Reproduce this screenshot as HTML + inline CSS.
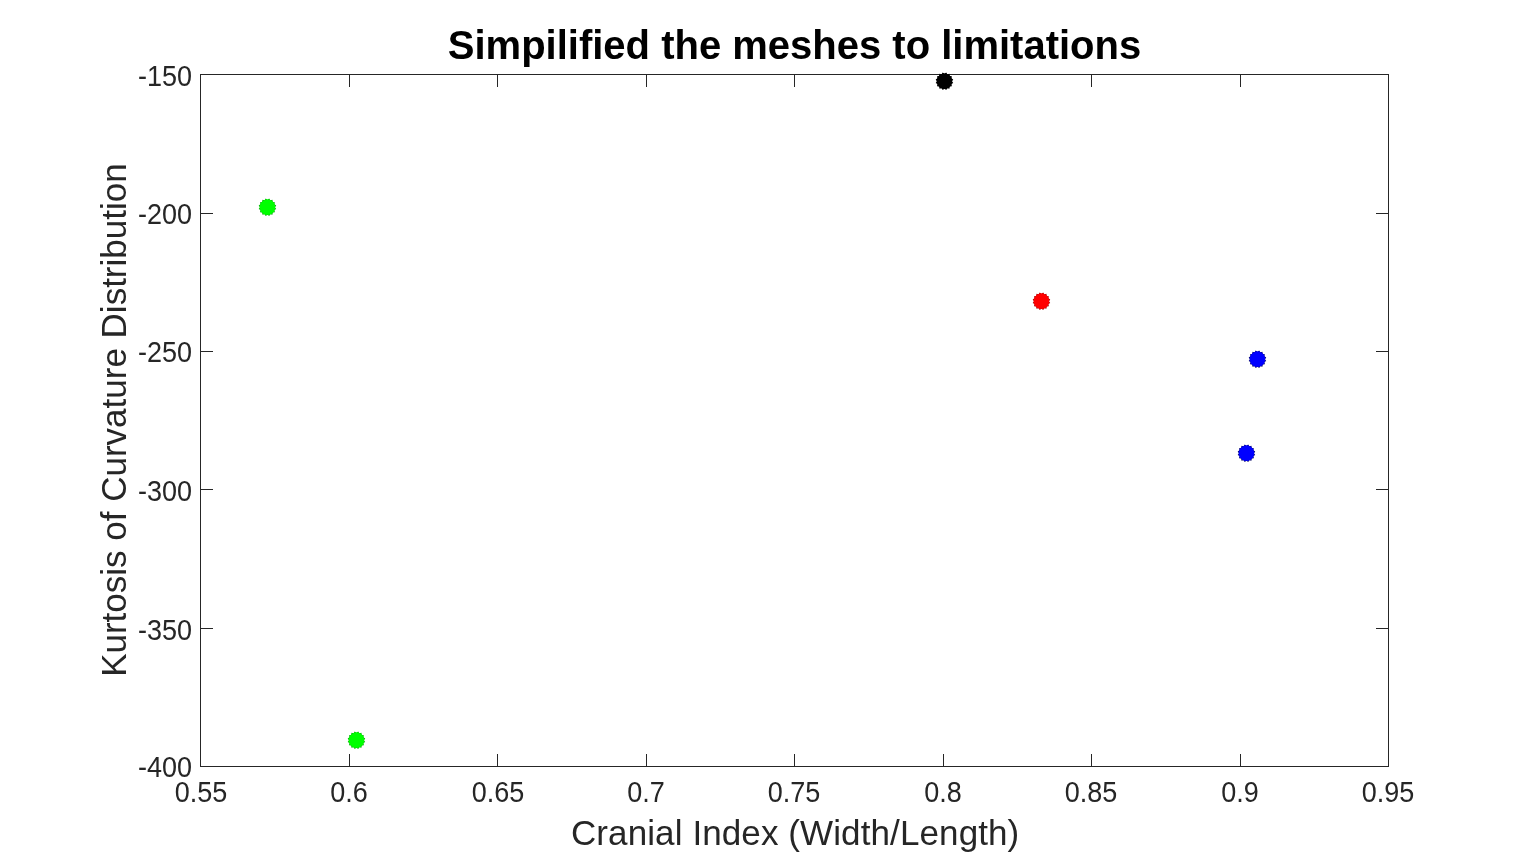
<!DOCTYPE html>
<html lang="en">
<head>
<meta charset="utf-8">
<title>Simpilified the meshes to limitations</title>
<style>
html,body{margin:0;padding:0;background:#fff;}
body{width:1532px;height:861px;overflow:hidden;}
svg{display:block;}
text{font-family:"Liberation Sans", sans-serif;fill:#262626;}
.tk{font-size:27px;}
.lb{font-size:35px;}
.tt{font-size:40px;font-weight:bold;fill:#000;}
.ax{stroke:#262626;stroke-width:1;fill:none;shape-rendering:crispEdges;}
</style>
</head>
<body>
<svg width="1532" height="861" viewBox="0 0 1532 861">
<rect x="0" y="0" width="1532" height="861" fill="#ffffff"/>
<rect class="ax" x="200.5" y="74.5" width="1188.0" height="692.0"/>
<path class="ax" d="M349.5 766.5V754.0M349.5 74.5V87.0M497.5 766.5V754.0M497.5 74.5V87.0M646.5 766.5V754.0M646.5 74.5V87.0M794.5 766.5V754.0M794.5 74.5V87.0M943.5 766.5V754.0M943.5 74.5V87.0M1091.5 766.5V754.0M1091.5 74.5V87.0M1240.5 766.5V754.0M1240.5 74.5V87.0M200.5 213.5H213.0M1388.5 213.5H1376.0M200.5 351.5H213.0M1388.5 351.5H1376.0M200.5 489.5H213.0M1388.5 489.5H1376.0M200.5 628.5H213.0M1388.5 628.5H1376.0"/>
<text class="tk" transform="translate(201.00 802.2) scale(1 1.07)" text-anchor="middle">0.55</text>
<text class="tk" transform="translate(349.00 802.2) scale(1 1.07)" text-anchor="middle">0.6</text>
<text class="tk" transform="translate(498.00 802.2) scale(1 1.07)" text-anchor="middle">0.65</text>
<text class="tk" transform="translate(646.00 802.2) scale(1 1.07)" text-anchor="middle">0.7</text>
<text class="tk" transform="translate(794.00 802.2) scale(1 1.07)" text-anchor="middle">0.75</text>
<text class="tk" transform="translate(943.00 802.2) scale(1 1.07)" text-anchor="middle">0.8</text>
<text class="tk" transform="translate(1091.00 802.2) scale(1 1.07)" text-anchor="middle">0.85</text>
<text class="tk" transform="translate(1240.00 802.2) scale(1 1.07)" text-anchor="middle">0.9</text>
<text class="tk" transform="translate(1388.00 802.2) scale(1 1.07)" text-anchor="middle">0.95</text>
<text class="tk" transform="translate(192 86.2) scale(1 1.07)" text-anchor="end">-150</text>
<text class="tk" transform="translate(192 224.2) scale(1 1.07)" text-anchor="end">-200</text>
<text class="tk" transform="translate(192 362.2) scale(1 1.07)" text-anchor="end">-250</text>
<text class="tk" transform="translate(192 501.2) scale(1 1.07)" text-anchor="end">-300</text>
<text class="tk" transform="translate(192 640.2) scale(1 1.07)" text-anchor="end">-350</text>
<text class="tk" transform="translate(192 777.2) scale(1 1.07)" text-anchor="end">-400</text>
<text class="tt" x="794.5" y="58.8" text-anchor="middle">Simpilified the meshes to limitations</text>
<text class="lb" x="795.1" y="844.7" text-anchor="middle" textLength="448.3" lengthAdjust="spacing">Cranial Index (Width/Length)</text>
<text class="lb" transform="translate(126 420.1) rotate(-90)" text-anchor="middle">Kurtosis of Curvature Distribution</text>
<polygon points="269.20,198.42 270.32,200.27 272.42,199.76 272.75,201.90 274.89,202.23 274.38,204.33 276.23,205.45 274.95,207.20 276.23,208.95 274.38,210.07 274.89,212.17 272.75,212.50 272.42,214.64 270.32,214.13 269.20,215.98 267.45,214.70 265.70,215.98 264.58,214.13 262.48,214.64 262.15,212.50 260.01,212.17 260.52,210.07 258.67,208.95 259.95,207.20 258.67,205.45 260.52,204.33 260.01,202.23 262.15,201.90 262.48,199.76 264.58,200.27 265.70,198.42 267.45,199.70" fill="#00a800"/><polygon points="269.01,199.35 270.36,200.18 271.89,200.55 272.82,201.83 274.10,202.76 274.47,204.29 275.30,205.64 275.05,207.20 275.30,208.76 274.47,210.11 274.10,211.64 272.82,212.57 271.89,213.85 270.36,214.22 269.01,215.05 267.45,214.80 265.89,215.05 264.54,214.22 263.01,213.85 262.08,212.57 260.80,211.64 260.43,210.11 259.60,208.76 259.85,207.20 259.60,205.64 260.43,204.29 260.80,202.76 262.08,201.83 263.01,200.55 264.54,200.18 265.89,199.35 267.45,199.60" fill="#00ff00"/>
<polygon points="358.20,731.42 359.32,733.27 361.42,732.76 361.75,734.90 363.89,735.23 363.38,737.33 365.23,738.45 363.95,740.20 365.23,741.95 363.38,743.07 363.89,745.17 361.75,745.50 361.42,747.64 359.32,747.13 358.20,748.98 356.45,747.70 354.70,748.98 353.58,747.13 351.48,747.64 351.15,745.50 349.01,745.17 349.52,743.07 347.67,741.95 348.95,740.20 347.67,738.45 349.52,737.33 349.01,735.23 351.15,734.90 351.48,732.76 353.58,733.27 354.70,731.42 356.45,732.70" fill="#00a800"/><polygon points="358.01,732.35 359.36,733.18 360.89,733.55 361.82,734.83 363.10,735.76 363.47,737.29 364.30,738.64 364.05,740.20 364.30,741.76 363.47,743.11 363.10,744.64 361.82,745.57 360.89,746.85 359.36,747.22 358.01,748.05 356.45,747.80 354.89,748.05 353.54,747.22 352.01,746.85 351.08,745.57 349.80,744.64 349.43,743.11 348.60,741.76 348.85,740.20 348.60,738.64 349.43,737.29 349.80,735.76 351.08,734.83 352.01,733.55 353.54,733.18 354.89,732.35 356.45,732.60" fill="#00ff00"/>
<polygon points="946.20,72.42 947.32,74.27 949.42,73.76 949.75,75.90 951.89,76.23 951.38,78.33 953.23,79.45 951.95,81.20 953.23,82.95 951.38,84.07 951.89,86.17 949.75,86.50 949.42,88.64 947.32,88.13 946.20,89.98 944.45,88.70 942.70,89.98 941.58,88.13 939.48,88.64 939.15,86.50 937.01,86.17 937.52,84.07 935.67,82.95 936.95,81.20 935.67,79.45 937.52,78.33 937.01,76.23 939.15,75.90 939.48,73.76 941.58,74.27 942.70,72.42 944.45,73.70" fill="#000000"/><polygon points="946.01,73.35 947.36,74.18 948.89,74.55 949.82,75.83 951.10,76.76 951.47,78.29 952.30,79.64 952.05,81.20 952.30,82.76 951.47,84.11 951.10,85.64 949.82,86.57 948.89,87.85 947.36,88.22 946.01,89.05 944.45,88.80 942.89,89.05 941.54,88.22 940.01,87.85 939.08,86.57 937.80,85.64 937.43,84.11 936.60,82.76 936.85,81.20 936.60,79.64 937.43,78.29 937.80,76.76 939.08,75.83 940.01,74.55 941.54,74.18 942.89,73.35 944.45,73.60" fill="#000000"/>
<polygon points="1043.20,292.42 1044.32,294.27 1046.42,293.76 1046.75,295.90 1048.89,296.23 1048.38,298.33 1050.23,299.45 1048.95,301.20 1050.23,302.95 1048.38,304.07 1048.89,306.17 1046.75,306.50 1046.42,308.64 1044.32,308.13 1043.20,309.98 1041.45,308.70 1039.70,309.98 1038.58,308.13 1036.48,308.64 1036.15,306.50 1034.01,306.17 1034.52,304.07 1032.67,302.95 1033.95,301.20 1032.67,299.45 1034.52,298.33 1034.01,296.23 1036.15,295.90 1036.48,293.76 1038.58,294.27 1039.70,292.42 1041.45,293.70" fill="#a00000"/><polygon points="1043.01,293.35 1044.36,294.18 1045.89,294.55 1046.82,295.83 1048.10,296.76 1048.47,298.29 1049.30,299.64 1049.05,301.20 1049.30,302.76 1048.47,304.11 1048.10,305.64 1046.82,306.57 1045.89,307.85 1044.36,308.22 1043.01,309.05 1041.45,308.80 1039.89,309.05 1038.54,308.22 1037.01,307.85 1036.08,306.57 1034.80,305.64 1034.43,304.11 1033.60,302.76 1033.85,301.20 1033.60,299.64 1034.43,298.29 1034.80,296.76 1036.08,295.83 1037.01,294.55 1038.54,294.18 1039.89,293.35 1041.45,293.60" fill="#ff0000"/>
<polygon points="1259.20,350.42 1260.32,352.27 1262.42,351.76 1262.75,353.90 1264.89,354.23 1264.38,356.33 1266.23,357.45 1264.95,359.20 1266.23,360.95 1264.38,362.07 1264.89,364.17 1262.75,364.50 1262.42,366.64 1260.32,366.13 1259.20,367.98 1257.45,366.70 1255.70,367.98 1254.58,366.13 1252.48,366.64 1252.15,364.50 1250.01,364.17 1250.52,362.07 1248.67,360.95 1249.95,359.20 1248.67,357.45 1250.52,356.33 1250.01,354.23 1252.15,353.90 1252.48,351.76 1254.58,352.27 1255.70,350.42 1257.45,351.70" fill="#000060"/><polygon points="1259.01,351.35 1260.36,352.18 1261.89,352.55 1262.82,353.83 1264.10,354.76 1264.47,356.29 1265.30,357.64 1265.05,359.20 1265.30,360.76 1264.47,362.11 1264.10,363.64 1262.82,364.57 1261.89,365.85 1260.36,366.22 1259.01,367.05 1257.45,366.80 1255.89,367.05 1254.54,366.22 1253.01,365.85 1252.08,364.57 1250.80,363.64 1250.43,362.11 1249.60,360.76 1249.85,359.20 1249.60,357.64 1250.43,356.29 1250.80,354.76 1252.08,353.83 1253.01,352.55 1254.54,352.18 1255.89,351.35 1257.45,351.60" fill="#0000ff"/>
<polygon points="1248.20,444.42 1249.32,446.27 1251.42,445.76 1251.75,447.90 1253.89,448.23 1253.38,450.33 1255.23,451.45 1253.95,453.20 1255.23,454.95 1253.38,456.07 1253.89,458.17 1251.75,458.50 1251.42,460.64 1249.32,460.13 1248.20,461.98 1246.45,460.70 1244.70,461.98 1243.58,460.13 1241.48,460.64 1241.15,458.50 1239.01,458.17 1239.52,456.07 1237.67,454.95 1238.95,453.20 1237.67,451.45 1239.52,450.33 1239.01,448.23 1241.15,447.90 1241.48,445.76 1243.58,446.27 1244.70,444.42 1246.45,445.70" fill="#000060"/><polygon points="1248.01,445.35 1249.36,446.18 1250.89,446.55 1251.82,447.83 1253.10,448.76 1253.47,450.29 1254.30,451.64 1254.05,453.20 1254.30,454.76 1253.47,456.11 1253.10,457.64 1251.82,458.57 1250.89,459.85 1249.36,460.22 1248.01,461.05 1246.45,460.80 1244.89,461.05 1243.54,460.22 1242.01,459.85 1241.08,458.57 1239.80,457.64 1239.43,456.11 1238.60,454.76 1238.85,453.20 1238.60,451.64 1239.43,450.29 1239.80,448.76 1241.08,447.83 1242.01,446.55 1243.54,446.18 1244.89,445.35 1246.45,445.60" fill="#0000ff"/>
</svg>
</body>
</html>
